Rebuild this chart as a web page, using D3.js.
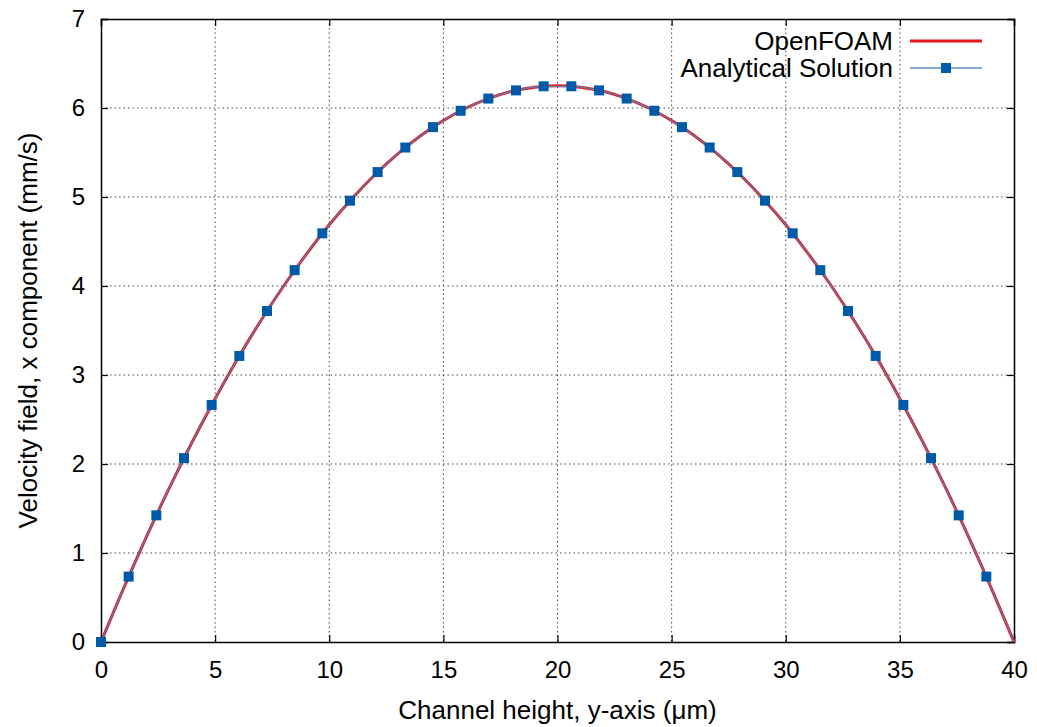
<!DOCTYPE html>
<html>
<head>
<meta charset="utf-8">
<script src="https://cdn.jsdelivr.net/npm/d3@7"></script>
<style>
  body { margin: 0; background: #fff; }
  svg { font-family: "Liberation Sans", Arial, sans-serif; }
</style>
</head>
<body>
<svg id="chart" width="1037" height="727"></svg>
<script>
// OpenFOAM profile, sampled at every micron
var foamX = [0, 1, 2, 3, 4, 5, 6, 7, 8, 9, 10, 11, 12, 13, 14, 15, 16, 17, 18, 19, 20,
  21, 22, 23, 24, 25, 26, 27, 28, 29, 30, 31, 32, 33, 34, 35, 36, 37, 38, 39, 40];
var foamU = [0, 0.609, 1.188, 1.734, 2.25, 2.734, 3.188, 3.609, 4.0, 4.359, 4.688,
  4.984, 5.25, 5.484, 5.688, 5.859, 6.0, 6.109, 6.188, 6.234, 6.25,
  6.234, 6.188, 6.109, 6.0, 5.859, 5.688, 5.484, 5.25, 4.984, 4.688,
  4.359, 4.0, 3.609, 3.188, 2.734, 2.25, 1.734, 1.188, 0.609, 0];

// analytical solution; the last point (40, 0) carries no marker in the picture
var anaX = [0, 1.212, 2.424, 3.636, 4.848, 6.061, 7.273, 8.485, 9.697, 10.909, 12.121,
  13.333, 14.545, 15.758, 16.970, 18.182, 19.394, 20.606, 21.818, 23.030, 24.242,
  25.455, 26.667, 27.879, 29.091, 30.303, 31.515, 32.727, 33.939, 35.152, 36.364,
  37.576, 38.788, 40];
var anaU = [0, 0.735, 1.423, 2.066, 2.663, 3.214, 3.719, 4.178, 4.592, 4.959, 5.280,
  5.556, 5.785, 5.969, 6.106, 6.198, 6.244, 6.244, 6.198, 6.106, 5.969,
  5.785, 5.556, 5.280, 4.959, 4.592, 4.178, 3.719, 3.214, 2.663, 2.066,
  1.423, 0.735, 0];

var xTicks = [0, 5, 10, 15, 20, 25, 30, 35, 40];
var yTicks = [0, 1, 2, 3, 4, 5, 6, 7];

var seriesNames = ['OpenFOAM', 'Analytical Solution'];

function render() {
  'use strict';
  var svg = d3.select('#chart'),
    margin = {top: 19, right: 23, bottom: 85, left: 101},
    width = +svg.attr('width') - margin.left - margin.right,
    height = +svg.attr('height') - margin.top - margin.bottom;

  var x = d3.scaleLinear().domain([0, 40]).range([0, width]);
  var y = d3.scaleLinear().domain([0, 7]).range([height, 0]);

  var g = svg.append('g')
    .attr('transform', 'translate(' + margin.left + ',' + margin.top + ')');

  // grid
  g.selectAll('.vgrid')
    .data(xTicks.slice(1, -1))
    .enter().append('line')
      .attr('x1', function(d) { return x(d); })
      .attr('x2', function(d) { return x(d); })
      .attr('y1', 0).attr('y2', height)
      .attr('stroke', '#444').attr('stroke-width', 1)
      .attr('stroke-dasharray', '1.5,3');
  g.selectAll('.hgrid')
    .data(yTicks.slice(1, -1))
    .enter().append('line')
      .attr('y1', function(d) { return y(d); })
      .attr('y2', function(d) { return y(d); })
      .attr('x1', 0).attr('x2', width)
      .attr('stroke', '#444').attr('stroke-width', 1)
      .attr('stroke-dasharray', '1.5,3');

  // axes: ticks point inward, mirrored on top and right
  var tickFont = 24, titleFont = 26;
  var fmt = d3.format('d');
  var xAxis = g.append('g')
    .attr('transform', 'translate(0,' + height + ')')
    .call(d3.axisBottom(x).tickValues(xTicks).tickSize(-7).tickPadding(19).tickFormat(fmt));
  var yAxis = g.append('g')
    .call(d3.axisLeft(y).tickValues(yTicks).tickSize(-7).tickPadding(16).tickFormat(fmt));
  g.append('g')
    .call(d3.axisTop(x).tickValues(xTicks).tickSize(-7).tickFormat(''));
  g.append('g')
    .attr('transform', 'translate(' + width + ',0)')
    .call(d3.axisRight(y).tickValues(yTicks).tickSize(-7).tickFormat(''));

  g.selectAll('.domain').attr('stroke', '#000').attr('stroke-width', 1.5);
  g.selectAll('.tick line').attr('stroke', '#000').attr('stroke-width', 1.2);
  g.selectAll('.tick text')
    .attr('font-size', tickFont)
    .attr('font-family', '"Liberation Sans", Arial, sans-serif')
    .attr('fill', '#000');
  xAxis.selectAll('.tick text').attr('dy', '0.71em');

  // axis titles
  svg.append('text')
    .attr('x', margin.left + width / 2)
    .attr('y', 710)
    .attr('dy', '0.35em')
    .attr('text-anchor', 'middle')
    .attr('font-size', titleFont)
    .text('Channel height, y-axis (\u03bcm)');
  svg.append('text')
    .attr('transform', 'translate(28,' + (margin.top + height / 2) + ') rotate(-90)')
    .attr('dy', '0.35em')
    .attr('text-anchor', 'middle')
    .attr('font-size', titleFont)
    .text('Velocity field, x component (mm/s)');

  var line = d3.line()
    .x(function(d) { return x(d[0]); })
    .y(function(d) { return y(d[1]); })
    .curve(d3.curveMonotoneX);

  var foam = foamX.map(function(v, i) { return [v, foamU[i]]; });
  var ana = anaX.map(function(v, i) { return [v, anaU[i]]; });

  g.append('path')
    .datum(foam)
    .attr('fill', 'none')
    .attr('stroke', '#e41a1c')
    .attr('stroke-width', 3)
    .attr('d', line);

  g.append('path')
    .datum(ana)
    .attr('fill', 'none')
    .attr('stroke', '#5b7fb8')
    .attr('stroke-width', 1.2)
    .attr('d', line);

  g.selectAll('.marker')
    .data(ana.slice(0, -1))
    .enter().append('rect')
      .attr('x', function(d) { return x(d[0]) - 5; })
      .attr('y', function(d) { return y(d[1]) - 5; })
      .attr('width', 10).attr('height', 10)
      .attr('fill', '#005aaa');

  // legend
  var leg = svg.append('g');
  var rows = [41, 68];
  seriesNames.forEach(function(name, i) {
    leg.append('text')
      .attr('x', 893).attr('y', rows[i])
      .attr('dy', '0.35em')
      .attr('text-anchor', 'end')
      .attr('font-size', titleFont)
      .text(name);
  });
  leg.append('line')
    .attr('x1', 910).attr('x2', 982).attr('y1', rows[0]).attr('y2', rows[0])
    .attr('stroke', '#e41a1c').attr('stroke-width', 3);
  leg.append('line')
    .attr('x1', 910).attr('x2', 982).attr('y1', rows[1]).attr('y2', rows[1])
    .attr('stroke', '#5b8fc8').attr('stroke-width', 1.5);
  leg.append('rect')
    .attr('x', 941).attr('y', rows[1] - 5).attr('width', 10).attr('height', 10)
    .attr('fill', '#005aaa');
}

render();
</script>
</body>
</html>
